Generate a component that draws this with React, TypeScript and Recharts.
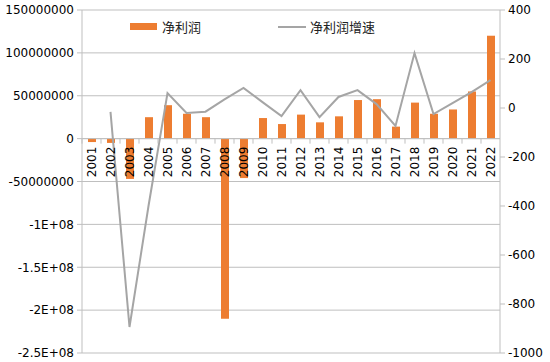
import {
  ComposedChart,
  Bar,
  Line,
  XAxis,
  YAxis,
  CartesianGrid,
  ReferenceLine,
} from "recharts";

const YEARS = [
  "2001", "2002", "2003", "2004", "2005", "2006", "2007", "2008", "2009", "2010", "2011",
  "2012", "2013", "2014", "2015", "2016", "2017", "2018", "2019", "2020", "2021", "2022",
];
const NET_PROFIT = [
  -4e6, -5e6, -47e6, 25e6, 39e6, 29e6, 25e6, -210e6, -46e6, 24e6, 17e6,
  28e6, 19e6, 26e6, 45e6, 46e6, 14e6, 42e6, 29e6, 34e6, 55e6, 120e6,
];
const PROFIT_GROWTH = [
  null, -16, -894, -400, 61, -20, -15, 35, 82, 24, -33,
  73, -37, 45, 73, 16, -73, 224, -25, 20, 65, 114,
];
const LEFT_TICKS = [-250e6, -200e6, -150e6, -100e6, -50e6, 0, 50e6, 100e6, 150e6];
const LEFT_TICK_LABELS = [
  "-2.5E+08", "-2E+08", "-1.5E+08", "-1E+08", "-50000000", "0", "50000000", "100000000", "150000000",
];
const RIGHT_TICKS = [-1000, -800, -600, -400, -200, 0, 200, 400];

const data = YEARS.map((year, i) => ({
  year,
  profit: NET_PROFIT[i],
  growth: PROFIT_GROWTH[i],
}));

const W = 550;
const H = 362;
const TOP = 10;
const X_H = 9;
const LEFT_W = 82;
const RIGHT_W = 50;
const PLOT_H = H - TOP - X_H;
const BAND = (W - LEFT_W - RIGHT_W) / YEARS.length;
const ZERO_Y = TOP + (PLOT_H * 150) / 400;

const BAR_COLOR = "#ED7D31";
const LINE_COLOR = "#A5A5A5";
const GRID = "#BFBFBF";
const FONT = "'DejaVu Sans', sans-serif";
const CJK = "'Noto Sans CJK SC', sans-serif";

// x labels sit under the zero line, like Excel does it
const XTick = ({ x, payload }: any) => (
  <g>
    <line x1={x - BAND / 2} x2={x - BAND / 2} y1={ZERO_Y} y2={ZERO_Y + 5} stroke={GRID} />
    <text
      x={x}
      y={ZERO_Y + 8}
      dy="0.35em"
      textAnchor="end"
      transform={`rotate(-90, ${x}, ${ZERO_Y + 8})`}
      fontSize={12}
      fontFamily={FONT}
      fill="#000"
    >
      {payload.value}
    </text>
  </g>
);

const ChartLegend = () => (
  <div
    style={{
      position: "absolute",
      top: 17,
      left: 130,
      display: "flex",
      alignItems: "center",
      fontFamily: CJK,
      fontSize: 13,
      color: "#222",
    }}
  >
    <span style={{ width: 27, height: 7, background: BAR_COLOR, marginRight: 5 }} />
    <span style={{ width: 116 }}>净利润</span>
    <span style={{ width: 28, height: 2, background: LINE_COLOR, marginRight: 4 }} />
    <span>净利润增速</span>
  </div>
);

export default function App() {
  return (
    <div style={{ position: "absolute", left: 0, top: 0, width: W, height: H, background: "#fff" }}>
      <ComposedChart width={W} height={H} data={data} margin={{ top: TOP, right: 0, bottom: 0, left: 0 }}>
        <CartesianGrid yAxisId="left" vertical={false} stroke={GRID} />
        <XAxis
          dataKey="year"
          height={X_H}
          interval={0}
          axisLine={false}
          tickLine={false}
          tick={<XTick />}
        />
        <YAxis
          yAxisId="left"
          width={LEFT_W}
          domain={[-250e6, 150e6]}
          ticks={LEFT_TICKS}
          tickFormatter={(v: number) => LEFT_TICK_LABELS[LEFT_TICKS.indexOf(v)]}
          tickSize={5}
          tickMargin={3}
          axisLine={{ stroke: GRID }}
          tickLine={{ stroke: GRID }}
          tick={{ fill: "#000", fontSize: 12, fontFamily: FONT }}
        />
        <YAxis
          yAxisId="right"
          orientation="right"
          width={RIGHT_W}
          domain={[-1000, 400]}
          ticks={RIGHT_TICKS}
          tickSize={5}
          tickMargin={3}
          axisLine={{ stroke: GRID }}
          tickLine={{ stroke: GRID }}
          tick={{ fill: "#000", fontSize: 12, fontFamily: FONT }}
        />
        <ReferenceLine yAxisId="left" y={0} stroke={GRID} />
        <Bar yAxisId="left" dataKey="profit" name="净利润" fill={BAR_COLOR} barSize={8} isAnimationActive={false} />
        <Line
          yAxisId="right"
          dataKey="growth"
          name="净利润增速"
          stroke={LINE_COLOR}
          strokeWidth={2}
          dot={false}
          isAnimationActive={false}
        />
      </ComposedChart>
      <ChartLegend />
    </div>
  );
}
